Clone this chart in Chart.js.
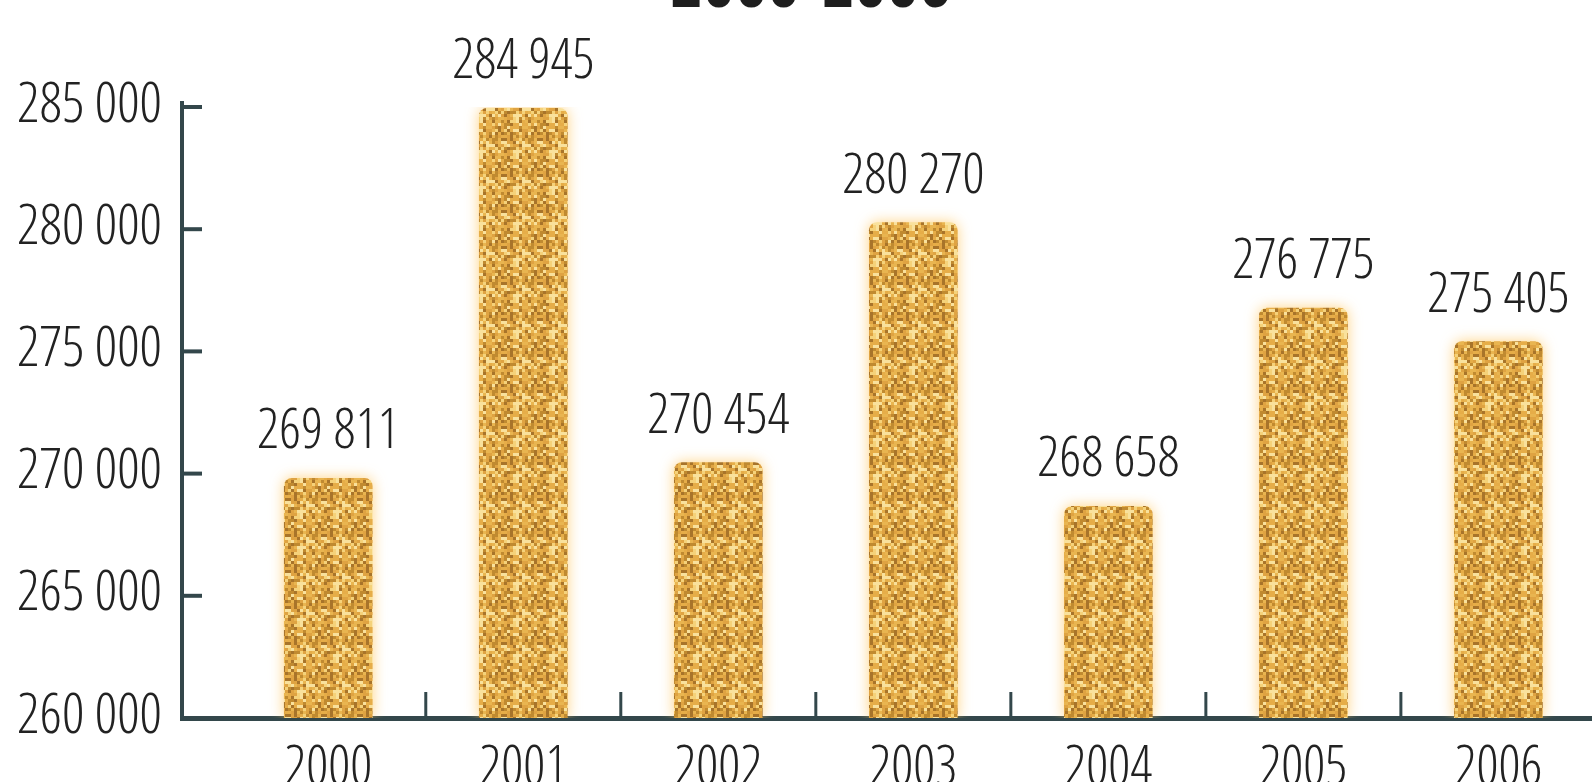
<!DOCTYPE html>
<html>
<head>
<meta charset="utf-8">
<script src="https://cdn.jsdelivr.net/npm/chart.js@4/dist/chart.umd.min.js"></script>
<style>
  html, body { margin: 0; padding: 0; background: #ffffff; }
  #wrap { width: 1592px; height: 782px; }
</style>
</head>
<body>
<div id="wrap"><canvas id="c" width="1592" height="782"></canvas></div>
<script>
const years = [2000, 2001, 2002, 2003, 2004, 2005, 2006];
const visitors = [269811, 284945, 270454, 280270, 268658, 276775, 275405];
const yTicks = [260000, 265000, 270000, 275000, 280000, 285000];
const titleText = '2000-2006';

const FONT = "'Open Sans Condensed Light', 'Roboto Condensed', sans-serif";
const FONT_BOLD = "'Open Sans Condensed', 'Roboto Condensed', sans-serif";
const INK = '#222222';
const AXIS = '#33474b';

function spaced(v) {
  return String(v).replace(/\B(?=(\d{3})+(?!\d))/g, ' ');
}

// mottled gold texture for the bars (fixed hash, so every render is identical)
function goldPattern() {
  const cell = 3, n = 12;
  const palette = ['#f5d27a', '#e9b550', '#dfa342', '#c08a30', '#f9e19c', '#e6ad48', '#a8742a'];
  const t = document.createElement('canvas');
  t.width = t.height = cell * n;
  const g = t.getContext('2d');
  for (let r = 0; r < n; r++) {
    for (let c = 0; c < n; c++) {
      const h = ((r * 73 + c * 151 + ((r * c) % 5) * 37) ^ (r * 11 + c * 7)) % palette.length;
      g.fillStyle = palette[h];
      g.fillRect(c * cell, r * cell, cell, cell);
    }
  }
  return document.getElementById('c').getContext('2d').createPattern(t, 'repeat');
}

const glow = {
  id: 'glow',
  beforeDatasetsDraw(chart) {
    const ctx = chart.ctx;
    ctx.save();
    ctx.shadowColor = 'rgba(255, 200, 100, 0.8)';
    ctx.shadowBlur = 14;
  },
  afterDatasetsDraw(chart) {
    chart.ctx.restore();
  }
};

const valueLabels = {
  id: 'valueLabels',
  afterDatasetsDraw(chart) {
    const ctx = chart.ctx;
    const meta = chart.getDatasetMeta(0);
    ctx.save();
    ctx.font = '55px ' + FONT;
    ctx.fillStyle = INK;
    ctx.textAlign = 'center';
    ctx.textBaseline = 'alphabetic';
    meta.data.forEach((el, i) => {
      ctx.fillText(spaced(visitors[i]), el.x, el.y - 30);
    });
    ctx.restore();
  }
};

const axisMarks = {
  id: 'axisMarks',
  afterDraw(chart) {
    const ctx = chart.ctx;
    const xs = chart.scales.x, ys = chart.scales.y;
    const a = chart.chartArea;
    ctx.save();
    ctx.strokeStyle = AXIS;
    ctx.lineWidth = 4;
    // axis line runs a little past the top tick
    ctx.beginPath();
    ctx.moveTo(a.left, a.top);
    ctx.lineTo(a.left, a.top - 6);
    ctx.stroke();
    yTicks.slice(1).forEach(v => {
      const y = ys.getPixelForValue(v);
      ctx.beginPath();
      ctx.moveTo(a.left, y);
      ctx.lineTo(a.left + 20, y);
      ctx.stroke();
    });
    ctx.lineWidth = 3;
    years.slice(0, -1).forEach(yr => {
      const x = xs.getPixelForValue(yr + 0.5);
      ctx.beginPath();
      ctx.moveTo(x, a.bottom);
      ctx.lineTo(x, a.bottom - 26);
      ctx.stroke();
    });
    // heading running off the top edge
    ctx.font = '70px ' + FONT_BOLD;
    ctx.fillStyle = '#1e1e1e';
    ctx.textAlign = 'center';
    ctx.textBaseline = 'alphabetic';
    ctx.fillText(titleText, 811, 7);
    ctx.restore();
  }
};

new Chart(document.getElementById('c'), {
  type: 'bar',
  data: {
    datasets: [{
      data: years.map((yr, i) => ({ x: yr, y: visitors[i] })),
      base: yTicks[0],
      backgroundColor: goldPattern(),
      borderWidth: 0,
      borderRadius: { topLeft: 8, topRight: 8 },
      borderSkipped: 'bottom',
      barThickness: 88
    }]
  },
  options: {
    responsive: false,
    devicePixelRatio: 1,
    animation: false,
    layout: { padding: { top: 107, right: 0, left: 0, bottom: 0 } },
    plugins: { legend: { display: false }, tooltip: { enabled: false }, title: { display: false } },
    scales: {
      x: {
        type: 'linear',
        offset: false,
        min: 1999.25,
        max: 2006.48,
        grid: { display: false },
        border: { display: true, color: AXIS, width: 5 },
        afterBuildTicks(scale) { scale.ticks = years.map(v => ({ value: v })); },
        afterFit(scale) { scale.height = 64; },
        ticks: {
          padding: 12,
          color: INK,
          font: { family: FONT, size: 55 },
          callback: v => String(v)
        }
      },
      y: {
        min: yTicks[0],
        max: yTicks[yTicks.length - 1],
        grid: { display: false },
        border: { display: true, color: AXIS, width: 4 },
        afterBuildTicks(scale) { scale.ticks = yTicks.map(v => ({ value: v })); },
        afterFit(scale) { scale.width = 182; },
        ticks: {
          padding: 12,
          color: INK,
          font: { family: FONT, size: 56 },
          callback: v => spaced(v)
        }
      }
    }
  },
  plugins: [glow, valueLabels, axisMarks]
});
</script>
</body>
</html>
